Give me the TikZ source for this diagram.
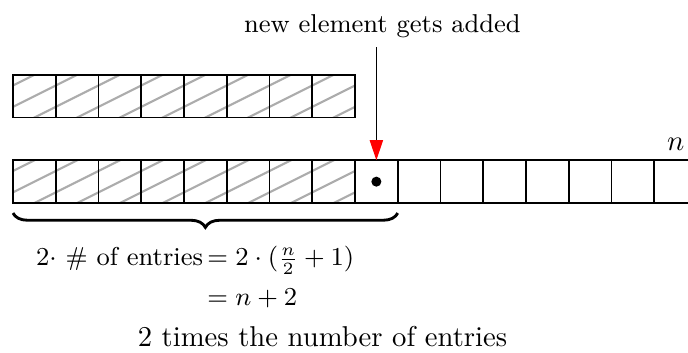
\documentclass[tikz,border=0pt]{standalone}
\usetikzlibrary{arrows.meta, decorations.pathreplacing}

\begin{document}
\begin{tikzpicture}[
    x=14.9pt, y=14.9pt,
    % Estilo de uma célula do vetor
    celula/.style={draw=black, line width=0.6pt, minimum size=14.9pt, inner sep=0pt, outer sep=0pt},
    % Célula já ocupada (hachurada, linhas com inclinação 1/2)
    ocupada/.style={celula, path picture={
        \foreach \k in {-0.75,-0.25,0.25,0.75}
            \draw[gray!65, line width=0.75pt]
                ([yshift=\k*14.9pt]path picture bounding box.south west)
                -- ([xshift=14.9pt, yshift=\k*14.9pt+7.45pt]path picture bounding box.south west);
    }},
    % Seta de inserção com ponta vermelha
    insercao/.style={-{Triangle[red, length=7pt, width=4.6pt]}, line width=0.5pt},
    % Chave embaixo das células
    chave/.style={decorate, decoration={brace, mirror, amplitude=5pt}, line width=1pt}
]

    % Margens da figura (a última célula fica cortada)
    \useasboundingbox (-0.304,-3.485) rectangle (15.79,4.749);
    \clip (-0.304,-3.485) rectangle (15.79,4.749);

    % ==========================================
    % 1. VETOR ANTIGO (cheio, 8 células)
    % ==========================================
    \foreach \i in {0,...,7}
        \node[ocupada] (a\i) at (\i+0.5, 2.5) {};

    % ==========================================
    % 2. VETOR NOVO (dobro do tamanho)
    % ==========================================
    \foreach \i in {0,...,7}
        \node[ocupada] (b\i) at (\i+0.5, 0.5) {};
    \foreach \i in {8,...,15}
        \node[celula] (b\i) at (\i+0.5, 0.5) {};

    % Elemento novo e rótulo da última posição
    \node[circle, fill=black, minimum size=3.5pt, inner sep=0pt] (ponto) at (b8.center) {};
    \node[above] (rotulo-n) at (b15.north) {$n$};

    % ==========================================
    % 3. SETA DE INSERÇÃO
    % ==========================================
    \node[anchor=base, font=\small] (novo) at (8.64, 4.0) {new element gets added};
    \draw[insercao] (novo.south -| b8.north) -- (b8.north);

    % ==========================================
    % 4. CHAVE E CONTAS
    % ==========================================
    \draw[chave] ([yshift=-3.5pt]b0.south west) -- ([yshift=-3.5pt]b8.south east);

    \node[anchor=base west, inner sep=0pt, font=\small] (conta) at (0.53,-1.467)
        {\begin{tabular}[t]{@{}r@{\,}l@{}}
            2$\cdot$ \# of entries & $= 2\cdot(\frac{n}{2}+1)$ \\[3pt]
                                   & $= n+2$
        \end{tabular}};
    \node[anchor=base] (legenda) at (7.24,-3.36) {2 times the number of entries};

\end{tikzpicture}
\end{document}
